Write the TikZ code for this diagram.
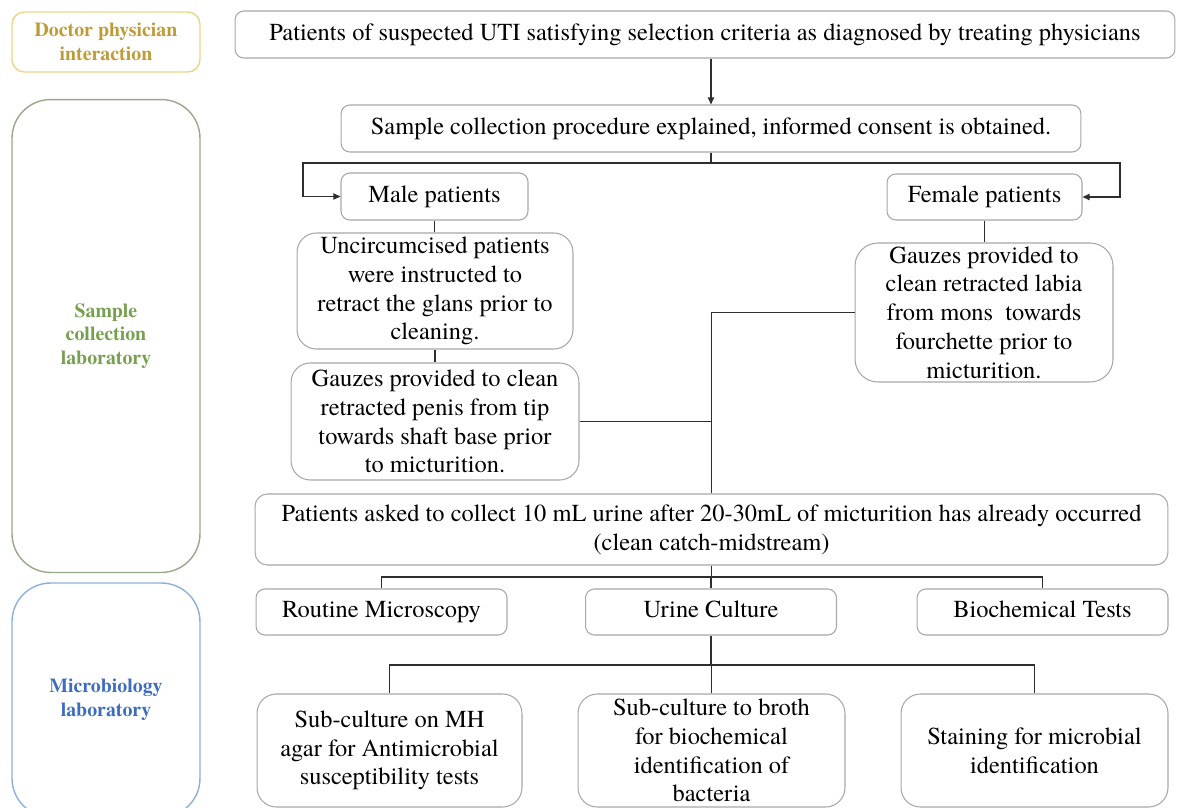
\documentclass[tikz,border=0pt]{standalone}
\usepackage{fontspec}
\setmainfont{texgyretermes}[Extension=.otf, UprightFont=*-regular, BoldFont=*-bold, ItalicFont=*-italic, BoldItalicFont=*-bolditalic]
\usetikzlibrary{arrows.meta,positioning}
\definecolor{boxgray}{HTML}{A8A8A8}
\definecolor{linegray}{HTML}{2E2E2E}
\definecolor{docborder}{HTML}{EBD686}
\definecolor{doctext}{HTML}{BF9B35}
\definecolor{sampborder}{HTML}{98A98A}
\definecolor{samptext}{HTML}{76A04E}
\definecolor{microborder}{HTML}{8DB0DE}
\definecolor{microtext}{HTML}{3C6DC0}
\tikzset{
  box/.style={draw=boxgray, line width=0.6pt, rounded corners=5pt, align=center,
    inner sep=1pt, font=\fontsize{13.9}{16.4}\selectfont},
  oneline/.style={text height=1.8ex, text depth=0.3ex},
  bigbox/.style={box, rounded corners=11pt},
  lab/.style={line width=0.8pt, align=center, inner sep=1pt,
    font=\bfseries\fontsize{11.3}{13.5}\selectfont},
  conn/.style={draw=linegray, line width=0.8pt},
  arr/.style={conn, -{Triangle[length=4pt,width=3.5pt]}}
}
\begin{document}
\begin{tikzpicture}[x=0.02cm,y=-0.02cm]
\useasboundingbox (0,0) rectangle (1177,808);
\fill[white] (0,0) rectangle (1177,808);
\clip (0,0) rectangle (1177,808);

% left lane labels
\node[lab, draw=docborder, text=doctext, rounded corners=7pt,
  minimum width=3.76cm, minimum height=1.2cm] (doc) at (106,42)
  {Doctor physician\\interaction};
\node[lab, draw=sampborder, text=samptext, rounded corners=22pt,
  minimum width=3.76cm, minimum height=9.46cm] (samp) at (106,336)
  {Sample\\collection\\laboratory};
\node[lab, draw=microborder, text=microtext, rounded corners=22pt,
  minimum width=3.76cm, minimum height=4.68cm] (micro) at (106,700)
  {Microbiology\\laboratory};

% main flow
\node[box, oneline, minimum width=18.8cm, minimum height=0.94cm] (top) at (705,34.5)
  {Patients of suspected UTI satisfying selection criteria as diagnosed by treating physicians};
\node[box, oneline, minimum width=14.8cm, minimum height=0.94cm] (consent) at (711,128.5)
  {Sample collection procedure explained, informed consent is obtained.};
\node[box, oneline, minimum width=3.74cm, minimum height=0.94cm] (male) at (434.5,196.5)
  {Male patients};
\node[box, oneline, minimum width=3.9cm, minimum height=0.92cm] (female) at (984.5,197)
  {Female patients};
\node[bigbox, minimum width=5.52cm, minimum height=2.32cm] (uncirc) at (435,291)
  {Uncircumcised patients\\were instructed to\\retract the glans prior to\\cleaning.};
\node[bigbox, minimum width=5.76cm, minimum height=2.34cm] (gauzeM) at (435,421.5)
  {Gauzes provided to clean\\retracted penis from tip\\towards shaft base prior\\to micturition.};
\node[bigbox, rounded corners=13pt, minimum width=5.16cm, minimum height=2.78cm] (gauzeF) at (984,312.5)
  {Gauzes provided to\\clean retracted labia\\from mons\ \ towards\\fourchette prior to\\micturition.};
\node[box, rounded corners=7pt, minimum width=18.26cm, minimum height=1.42cm] (collect) at (711.5,529.5)
  {Patients asked to collect 10 mL urine after 20-30mL of micturition has already occurred\\(clean catch-midstream)};
\node[box, oneline, minimum width=5.02cm, minimum height=0.92cm] (routine) at (381.5,612)
  {Routine Microscopy};
\node[box, oneline, minimum width=5.02cm, minimum height=0.92cm] (culture) at (711,612)
  {Urine Culture};
\node[box, oneline, minimum width=5.02cm, minimum height=0.92cm] (biochem) at (1042.5,612)
  {Biochemical Tests};
\node[bigbox, minimum width=5.3cm, minimum height=2.26cm] (sub1) at (389.5,750.5)
  {Sub-culture on MH\\agar for Antimicrobial\\susceptibility tests};
\node[bigbox, minimum width=5.34cm, minimum height=2.26cm] (sub2) at (711.5,750.5)
  {Sub-culture to broth\\for biochemical\\identification of\\bacteria};
\node[bigbox, minimum width=5.34cm, minimum height=2.26cm] (sub3) at (1034.5,750.5)
  {Staining for microbial\\identification};

% junction coordinates
\coordinate (mL) at (303,163);
\coordinate (fR) at (1120,163);
\coordinate (j2) at (711,577);
\coordinate (j3) at (711,665);

% connectors
\draw[arr] (top.south -| consent.north) -- (consent.north);
\draw[arr] (consent.south) |- (mL) |- (male.west);
\draw[arr] (consent.south) |- (fR) |- (female.east);
\draw[conn] (male.south) -- (male.south |- uncirc.north);
\draw[conn] (uncirc.south) -- (uncirc.south |- gauzeM.north);
\draw[conn] (female.south) -- (female.south |- gauzeF.north);
\draw[conn] (gauzeF.west) -| (collect.north);
\draw[conn] (gauzeM.east) -- (gauzeM.east -| collect.north);
\draw[conn] (collect.south) -- (collect.south |- j2);
\draw[conn] (routine.north) |- (j2) -| (biochem.north);
\draw[conn] (culture.north) -- (culture.north |- j2);
\draw[conn] (culture.south) -- (culture.south |- j3);
\draw[conn] (sub1.north) |- (j3) -| (sub3.north);
\draw[conn] (sub2.north) -- (sub2.north |- j3);
\end{tikzpicture}
\end{document}
